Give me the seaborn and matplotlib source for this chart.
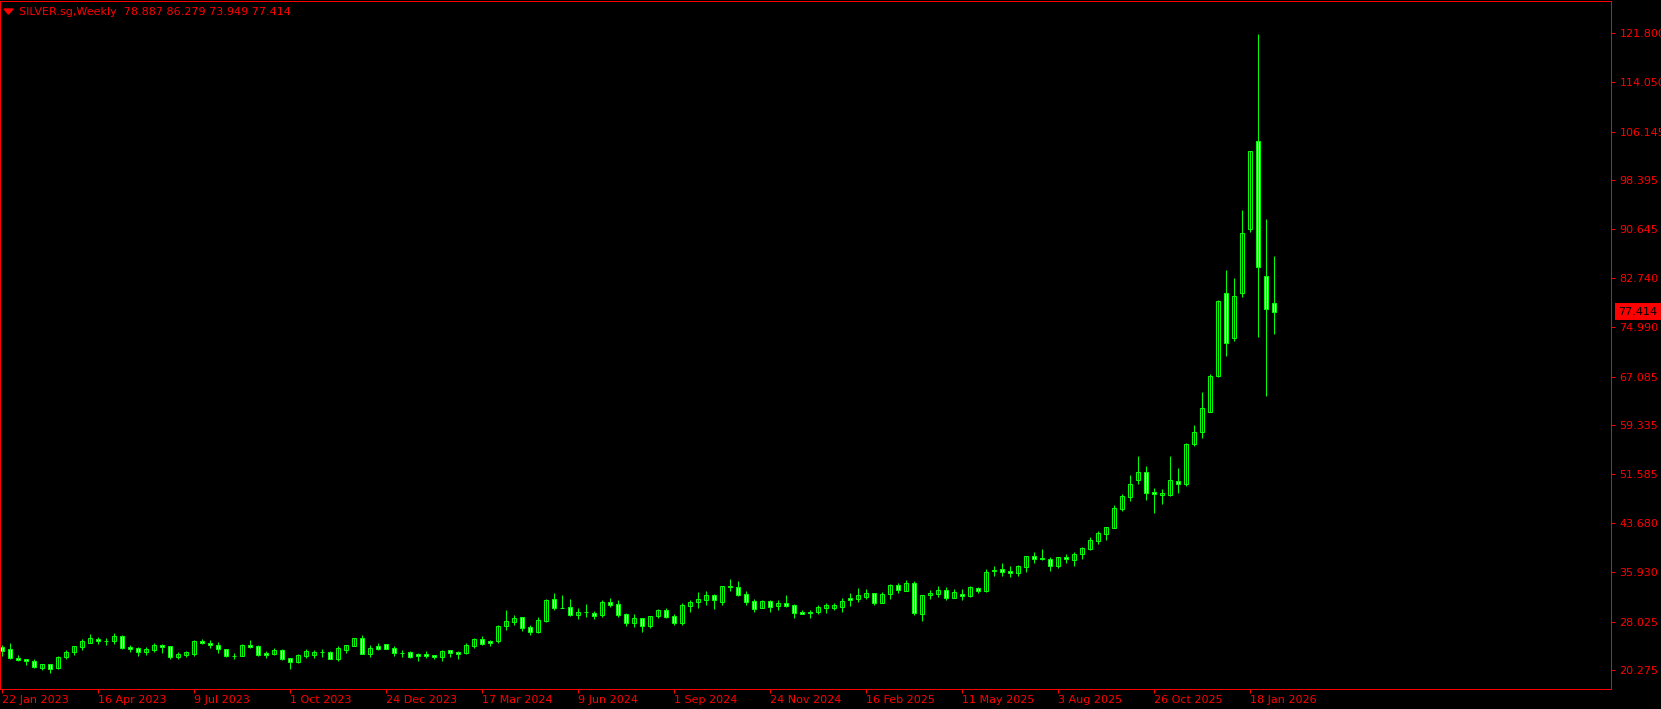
import numpy as np
import matplotlib
matplotlib.use('Agg')
import matplotlib.pyplot as plt
from matplotlib.patches import Polygon
import matplotlib.transforms as mtransforms
import seaborn as sns

# weekly OHLC, SILVER.sg, 22 Jan 2023 .. 8 Feb 2026
opens = [23.94, 23.67, 22.24, 22.08, 21.71, 20.70, 21.23, 20.65, 22.45, 23.25,
         23.99, 24.68, 25.27, 25.00, 25.00, 25.69, 23.99, 23.78, 23.25, 23.51,
         24.31, 24.10, 22.35, 22.66, 22.93, 24.95, 24.58, 24.26, 23.62, 22.63,
         22.61, 24.31, 24.10, 22.98, 22.93, 23.46, 22.19, 21.66, 22.61, 22.72,
         23.14, 23.14, 22.08, 23.51, 24.21, 25.37, 22.88, 24.15, 24.42, 23.83,
         22.98, 23.14, 22.93, 22.82, 22.71, 22.45, 23.46, 23.19, 23.08, 24.20,
         25.21, 24.94, 25.00, 27.39, 28.03, 28.72, 27.18, 26.38, 28.19, 31.58,
         30.28, 30.31, 29.14, 29.50, 29.46, 29.09, 31.11, 30.79, 29.19, 27.87,
         28.56, 27.33, 28.93, 29.88, 28.87, 27.87, 30.58, 31.21, 31.53, 32.22,
         31.21, 33.50, 33.50, 32.38, 31.27, 30.20, 31.32, 30.58, 30.95, 30.63,
         29.62, 29.57, 29.62, 30.26, 30.26, 30.37, 31.80, 31.70, 32.01, 32.55,
         31.06, 32.49, 33.82, 32.97, 34.14, 29.20, 32.28, 32.49, 33.02, 31.85,
         32.44, 32.12, 33.40, 32.97, 36.05, 36.42, 36.15, 35.84, 36.79, 38.44,
         38.10, 37.96, 36.96, 38.28, 37.86, 38.87, 39.61, 40.89, 42.06, 43.01,
         46.04, 47.95, 50.55, 51.83, 48.64, 48.27, 48.27, 50.39, 50.02, 56.29,
         58.31, 61.50, 67.18, 80.36, 73.29, 80.36, 90.55, 104.58, 83.12, 78.887]
highs = [24.31, 24.63, 22.66, 22.10, 22.08, 21.30, 21.30, 22.56, 23.51, 24.12,
         25.21, 26.07, 25.59, 25.48, 26.22, 25.85, 24.31, 23.99, 23.94, 24.63,
         24.47, 24.15, 23.20, 23.36, 25.11, 25.27, 25.06, 24.74, 23.65, 22.98,
         24.47, 25.11, 24.31, 23.36, 23.78, 23.62, 22.19, 22.82, 23.62, 23.51,
         23.67, 23.36, 24.15, 24.31, 25.43, 25.90, 24.31, 24.63, 24.42, 24.15,
         23.57, 23.36, 23.09, 23.30, 22.75, 23.51, 23.46, 23.30, 24.57, 25.48,
         25.74, 25.10, 27.49, 29.88, 29.03, 28.72, 27.44, 28.77, 31.64, 32.59,
         32.28, 31.64, 30.20, 30.84, 29.73, 31.48, 31.80, 31.48, 29.35, 29.25,
         28.66, 28.87, 30.10, 30.20, 29.19, 30.95, 31.48, 32.75, 32.97, 32.44,
         33.70, 34.83, 34.51, 32.91, 31.64, 31.48, 31.48, 31.48, 32.28, 30.84,
         29.88, 29.89, 30.68, 31.00, 31.06, 31.75, 32.55, 33.40, 33.24, 32.65,
         32.76, 33.98, 34.14, 34.67, 34.51, 32.23, 33.08, 33.72, 33.56, 33.24,
         33.24, 33.66, 33.56, 36.42, 36.90, 37.38, 36.90, 37.06, 38.49, 39.13,
         39.61, 38.33, 38.39, 38.81, 39.19, 39.98, 41.47, 42.48, 43.10, 46.57,
         48.38, 51.40, 54.43, 52.84, 49.39, 49.17, 54.43, 52.52, 56.50, 59.37,
         64.63, 67.45, 79.30, 84.08, 82.80, 93.64, 103.00, 121.69, 92.20, 86.279]
lows = [22.61, 22.13, 21.81, 21.18, 20.65, 20.33, 19.90, 20.54, 22.13, 22.77,
        23.57, 24.65, 24.52, 24.37, 24.52, 23.67, 23.25, 22.61, 22.72, 23.25,
        23.09, 22.03, 22.08, 22.45, 22.61, 24.47, 23.89, 23.09, 22.45, 22.08,
        22.55, 23.83, 22.61, 22.29, 22.66, 21.97, 20.49, 21.50, 22.29, 22.29,
        22.40, 22.03, 21.81, 22.98, 24.15, 22.90, 22.40, 23.51, 23.70, 22.56,
        22.40, 22.29, 21.81, 22.29, 22.13, 21.81, 22.39, 22.13, 22.87, 23.83,
        24.31, 24.15, 24.68, 26.70, 27.55, 26.59, 25.90, 26.17, 27.92, 29.88,
        30.15, 28.93, 28.45, 28.82, 28.45, 28.82, 30.31, 28.82, 27.39, 27.23,
        26.43, 27.07, 28.61, 28.61, 27.49, 27.49, 29.62, 30.26, 30.68, 30.04,
        30.68, 32.91, 32.12, 30.68, 29.57, 30.15, 29.57, 29.88, 30.31, 28.61,
        29.30, 28.67, 29.25, 29.46, 29.89, 29.57, 30.58, 31.16, 31.64, 30.74,
        31.00, 31.70, 32.65, 32.86, 29.15, 28.19, 31.70, 31.96, 31.48, 31.80,
        31.48, 32.01, 32.65, 32.70, 35.31, 35.31, 35.15, 35.31, 35.95, 37.38,
        37.81, 36.11, 36.64, 37.43, 36.96, 38.02, 39.45, 40.46, 41.05, 42.95,
        45.72, 47.26, 50.02, 47.42, 45.40, 46.78, 48.10, 48.59, 49.70, 56.08,
        57.35, 61.40, 67.08, 70.42, 72.81, 79.83, 90.18, 73.45, 64.05, 73.949]
closes = [23.41, 22.29, 21.97, 21.71, 20.75, 21.28, 20.43, 22.40, 23.20, 24.10,
          24.90, 25.37, 25.00, 24.98, 25.69, 23.89, 23.67, 23.25, 23.67, 24.31,
          24.05, 22.35, 22.88, 23.20, 24.95, 24.58, 24.26, 23.62, 22.61, 22.61,
          24.26, 24.05, 22.77, 22.66, 23.51, 22.13, 21.55, 22.66, 23.36, 23.14,
          23.16, 22.13, 23.83, 24.31, 25.43, 22.93, 23.78, 23.67, 23.73, 23.09,
          22.96, 22.45, 22.61, 22.61, 22.45, 23.35, 22.98, 22.93, 24.25, 25.26,
          24.52, 24.63, 27.33, 28.08, 28.61, 27.07, 26.43, 28.29, 31.43, 30.26,
          30.26, 29.14, 29.57, 29.52, 28.98, 31.16, 30.73, 29.14, 27.87, 28.56,
          27.33, 28.87, 29.88, 28.77, 27.87, 30.68, 31.16, 31.64, 32.28, 31.53,
          33.66, 33.66, 32.28, 31.21, 30.10, 31.32, 30.42, 31.00, 30.47, 29.46,
          29.30, 29.36, 30.37, 30.63, 30.68, 31.32, 31.43, 32.23, 32.55, 31.06,
          32.44, 33.82, 33.02, 34.14, 29.46, 32.23, 32.65, 33.02, 31.85, 32.70,
          32.12, 33.50, 32.97, 35.89, 36.31, 36.00, 35.84, 36.90, 38.49, 38.07,
          38.07, 36.96, 38.28, 37.96, 38.81, 39.72, 40.99, 42.11, 43.07, 46.09,
          48.06, 49.92, 51.83, 48.59, 48.33, 48.59, 50.61, 49.92, 56.29, 58.20,
          62.03, 67.13, 79.14, 72.50, 79.88, 89.92, 102.99, 84.61, 77.92, 77.414]

price_ticks = [121.800, 114.050, 106.145, 98.395, 90.645, 82.740, 74.990,
               67.085, 59.335, 51.585, 43.680, 35.930, 28.025, 20.275]
date_tick_bars = [0, 12, 24, 36, 48, 60, 72, 84, 96, 108, 120, 132, 144, 156]
date_labels = ['22 Jan 2023', '16 Apr 2023', '9 Jul 2023', '1 Oct 2023',
               '24 Dec 2023', '17 Mar 2024', '9 Jun 2024', '1 Sep 2024',
               '24 Nov 2024', '16 Feb 2025', '11 May 2025', '3 Aug 2025',
               '26 Oct 2025', '18 Jan 2026']
symbol = 'SILVER.sg,Weekly'

RED = '#ff0000'
GREEN = '#00ff00'
PX = 0.72  # one pixel in points at dpi 100

sns.set_theme(style='dark', rc={'axes.facecolor': 'black',
                                'figure.facecolor': 'black',
                                'axes.edgecolor': RED,
                                'axes.linewidth': PX})
plt.rcParams['font.family'] = ['DejaVu Sans']

o = np.array(opens)
h = np.array(highs)
l = np.array(lows)
c = np.array(closes)
x = np.arange(len(o))
bull = c >= o

W, H = 1661, 709
fig = plt.figure(figsize=(W / 100, H / 100), dpi=100)
ax = fig.add_axes([0, 20 / H, 1611 / W, 688 / H])

# wicks then bodies (bull hollow, bear white)
ax.vlines(x, l, h, color=GREEN, linewidth=PX)
ax.bar(x[bull], (c - o)[bull], bottom=o[bull], width=0.5,
       facecolor='black', edgecolor=GREEN, linewidth=PX)
ax.bar(x[~bull], (c - o)[~bull], bottom=o[~bull], width=0.5,
       facecolor='white', edgecolor=GREEN, linewidth=PX)

# 8 px per bar, bar centres on pixel centres
ax.set_xlim(-1.5 / 8, (1611 - 1.5) / 8)
ax.set_ylim(17.30, 126.95)

ax.yaxis.tick_right()
ax.set_yticks(price_ticks)
ax.set_yticklabels([f'{v:.3f}' for v in price_ticks])
ax.tick_params(axis='y', colors=RED, labelcolor=RED, length=3, width=PX,
               pad=3, labelsize=8, direction='out', right=True, left=False)
ax.set_xticks(date_tick_bars)
ax.set_xticklabels(date_labels, ha='left')
ax.tick_params(axis='x', colors=RED, labelcolor=RED, length=3, width=PX,
               pad=1.5, labelsize=8, direction='out', bottom=True)
for lab in ax.get_xticklabels():
    lab.set_horizontalalignment('left')
ax.grid(False)
for s in ax.spines.values():
    s.set_color(RED)
    s.set_linewidth(PX)

# last price tag on the axis
trans = mtransforms.blended_transform_factory(ax.transAxes, ax.transData)
ax.text(1.0045, c[-1], f'{c[-1]:.3f}', transform=trans, ha='left', va='center',
        fontsize=8, color='black', clip_on=False,
        bbox=dict(boxstyle='square,pad=0.3', fc=RED, ec='none'))

# header
fig.add_artist(Polygon([[4 / W, 1 - 9 / H], [13 / W, 1 - 9 / H], [8.5 / W, 1 - 14 / H]],
                       closed=True, transform=fig.transFigure, color=RED))
fig.text(19 / W, 1 - 12 / H,
         f'{symbol}  {o[-1]:.3f} {h[-1]:.3f} {l[-1]:.3f} {c[-1]:.3f}',
         color=RED, fontsize=8, ha='left', va='center')

fig.savefig('out.png', dpi=100, facecolor='black')
